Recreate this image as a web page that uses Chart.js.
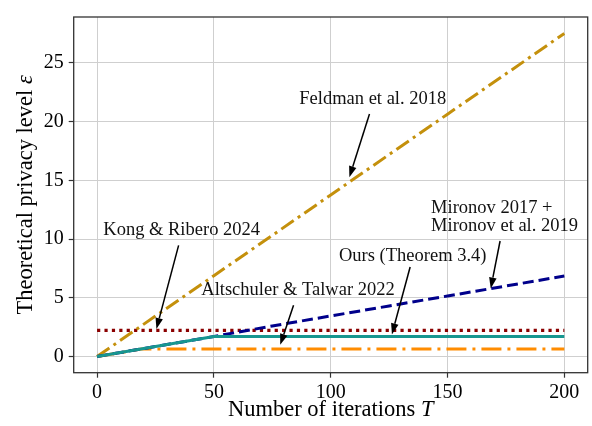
<!DOCTYPE html>
<html>
<head>
<meta charset="utf-8">
<script src="https://cdn.jsdelivr.net/npm/chart.js@4/dist/chart.umd.min.js"></script>
<style>
  html, body { margin: 0; padding: 0; background: #fff; }
  canvas { display: block; }
</style>
</head>
<body>
<canvas id="c" width="592" height="426"></canvas>
<script>
// Number of iterations T at which each bound is evaluated
const iterations = [0, 25, 50, 75, 100, 125, 150, 175, 200];

// Privacy level epsilon of each bound
const feldman    = [0, 3.44, 6.88, 10.31, 13.75, 17.19, 20.63, 24.06, 27.5];
const mironov    = [0, 0.85, 1.7, 2.6, 3.45, 4.3, 5.15, 6.0, 6.85];
const ours       = [0, 0.85, 1.7, 1.7, 1.7, 1.7, 1.7, 1.7, 1.7];
const kongRibero = [2.23, 2.23, 2.23, 2.23, 2.23, 2.23, 2.23, 2.23, 2.23];

// Altschuler & Talwar: grows with T, then saturates
const altschulerT = [0, 19, 200];
const altschuler  = [0, 0.64, 0.64];

// Axis ticks
const xTicks = [0, 50, 100, 150, 200];
const yTicks = [0, 5, 10, 15, 20, 25];

// Series labels
const labels = {
  feldman: 'Feldman et al. 2018',
  mironov: ['Mironov 2017 +', 'Mironov et al. 2019'],
  ours: 'Ours (Theorem 3.4)',
  kong: 'Kong & Ribero 2024',
  altschuler: 'Altschuler & Talwar 2022'
};

const toPoints = (xs, ys) => xs.map((x, i) => ({ x: x, y: ys[i] }));

// Callout placement (data coordinates): text centre, arrow tail, arrow tip
const callouts = [
  { text: [labels.feldman],    tx: 118.0, ty: 21.88, ax: 116.6, ay: 20.64, px: 108.0, py: 15.26 },
  { text: [labels.kong],       tx: 36.2,  ty: 10.76, ax: 34.9,  ay: 9.46,  px: 25.4,  py: 2.34 },
  { text: [labels.altschuler], tx: 86.0,  ty: 5.69,  ax: 84.1,  ay: 4.36,  px: 78.4,  py: 0.99 },
  { text: [labels.ours],       tx: 135.1, ty: 8.50,  ax: 134.0, ay: 7.62,  px: 126.2, py: 1.88 },
  { text: labels.mironov,      tx: 174.4, ty: 11.88, ax: 172.5, ay: 9.83,  px: 168.5, py: 5.79, left: true }
];

const SERIF = '"Liberation Serif", "Times New Roman", serif';
Chart.defaults.font.family = SERIF;
Chart.defaults.color = '#000';

const overlay = {
  id: 'overlay',
  afterDatasetsDraw(chart) {
    const { ctx, chartArea: a, scales: { x, y } } = chart;
    ctx.save();
    // axes frame
    ctx.strokeStyle = '#333';
    ctx.lineWidth = 1.3;
    ctx.strokeRect(a.left, a.top, a.right - a.left, a.bottom - a.top);

    // callouts
    ctx.font = '18.5px ' + SERIF;
    ctx.textBaseline = 'middle';
    const lh = 18.4;
    callouts.forEach(c => {
      ctx.fillStyle = '#111';
      const cx = x.getPixelForValue(c.tx);
      const cy = y.getPixelForValue(c.ty);
      const n = c.text.length;
      const maxW = Math.max(...c.text.map(t => ctx.measureText(t).width));
      c.text.forEach((t, i) => {
        const ly = cy + (i - (n - 1) / 2) * lh;
        if (c.left) {
          ctx.textAlign = 'left';
          ctx.fillText(t, cx - maxW / 2, ly);
        } else {
          ctx.textAlign = 'center';
          ctx.fillText(t, cx, ly);
        }
      });
      // arrow
      const x0 = x.getPixelForValue(c.ax), y0 = y.getPixelForValue(c.ay);
      const x1 = x.getPixelForValue(c.px), y1 = y.getPixelForValue(c.py);
      const ang = Math.atan2(y1 - y0, x1 - x0);
      const hl = 11, hw = 3.8;
      const bx = x1 - hl * Math.cos(ang), by = y1 - hl * Math.sin(ang);
      ctx.strokeStyle = '#000';
      ctx.lineWidth = 1.5;
      ctx.beginPath();
      ctx.moveTo(x0, y0);
      ctx.lineTo(bx, by);
      ctx.stroke();
      ctx.fillStyle = '#000';
      ctx.beginPath();
      ctx.moveTo(x1, y1);
      ctx.lineTo(bx + hw * Math.sin(ang), by - hw * Math.cos(ang));
      ctx.lineTo(bx - hw * Math.sin(ang), by + hw * Math.cos(ang));
      ctx.closePath();
      ctx.fill();
    });
    ctx.restore();
  },
  afterDraw(chart) {
    const { ctx, chartArea: a } = chart;
    ctx.save();
    ctx.fillStyle = '#000';
    ctx.textBaseline = 'middle';
    const fs = 22.5;
    const normal = fs + 'px ' + SERIF;
    const italic = 'italic ' + fs + 'px ' + SERIF;
    // draws a run of [text, italic?] pieces centred on (cx, cy)
    const drawRuns = (runs, cx, cy) => {
      let total = 0;
      runs.forEach(r => { ctx.font = r[1] ? italic : normal; total += ctx.measureText(r[0]).width; });
      let xPos = cx - total / 2;
      ctx.textAlign = 'left';
      runs.forEach(r => {
        ctx.font = r[1] ? italic : normal;
        ctx.fillText(r[0], xPos, cy);
        xPos += ctx.measureText(r[0]).width;
      });
    };
    drawRuns([['Number of iterations ', false], ['T', true]], (a.left + a.right) / 2, 410);
    ctx.translate(26, (a.top + a.bottom) / 2);
    ctx.rotate(-Math.PI / 2);
    drawRuns([['Theoretical privacy level ', false], ['\u03B5', true]], 0, 0);
    ctx.restore();
  }
};

new Chart(document.getElementById('c'), {
  type: 'line',
  data: {
    datasets: [
      { label: labels.ours, data: toPoints(iterations, ours),
        borderColor: '#179690', borderWidth: 3.2, order: 0 },
      { label: labels.mironov.join(' '), data: toPoints(iterations, mironov),
        borderColor: '#00008b', borderWidth: 3, borderDash: [11, 5], order: 1 },
      { label: labels.altschuler, data: toPoints(altschulerT, altschuler),
        borderColor: '#ff8c00', borderWidth: 3, borderDash: [20, 6, 3, 6], order: 2 },
      { label: labels.feldman, data: toPoints(iterations, feldman),
        borderColor: '#c4900c', borderWidth: 3, borderDash: [15, 5, 3, 5], order: 3 },
      { label: labels.kong, data: toPoints(iterations, kongRibero),
        borderColor: '#8b0000', borderWidth: 3.2, borderDash: [3.2, 4.2], order: 4 }
    ]
  },
  options: {
    responsive: false,
    animation: false,
    devicePixelRatio: 1,
    layout: { padding: { top: 7.3, right: 4.3, left: 0, bottom: 0 } },
    elements: {
      point: { radius: 0, hoverRadius: 0 },
      line: { tension: 0, borderCapStyle: 'butt', fill: false }
    },
    plugins: { legend: { display: false }, tooltip: { enabled: false } },
    scales: {
      x: {
        type: 'linear', min: -10, max: 210,
        afterBuildTicks: s => { s.ticks = xTicks.map(v => ({ value: v })); },
        afterFit: s => { s.height = 53.3; },
        grid: { color: '#cfcfcf', lineWidth: 1, tickLength: 5, tickColor: '#333', tickWidth: 1.2 },
        border: { display: false },
        ticks: { font: { size: 20 }, color: '#000', padding: 3, maxRotation: 0 }
      },
      y: {
        type: 'linear', min: -1.38, max: 28.9,
        afterBuildTicks: s => { s.ticks = yTicks.map(v => ({ value: v })); },
        afterFit: s => { s.width = 73.7; },
        grid: { color: '#cfcfcf', lineWidth: 1, tickLength: 5, tickColor: '#333', tickWidth: 1.2 },
        border: { display: false },
        ticks: { font: { size: 20 }, color: '#000', padding: 5 }
      }
    }
  },
  plugins: [overlay]
});
</script>
</body>
</html>
